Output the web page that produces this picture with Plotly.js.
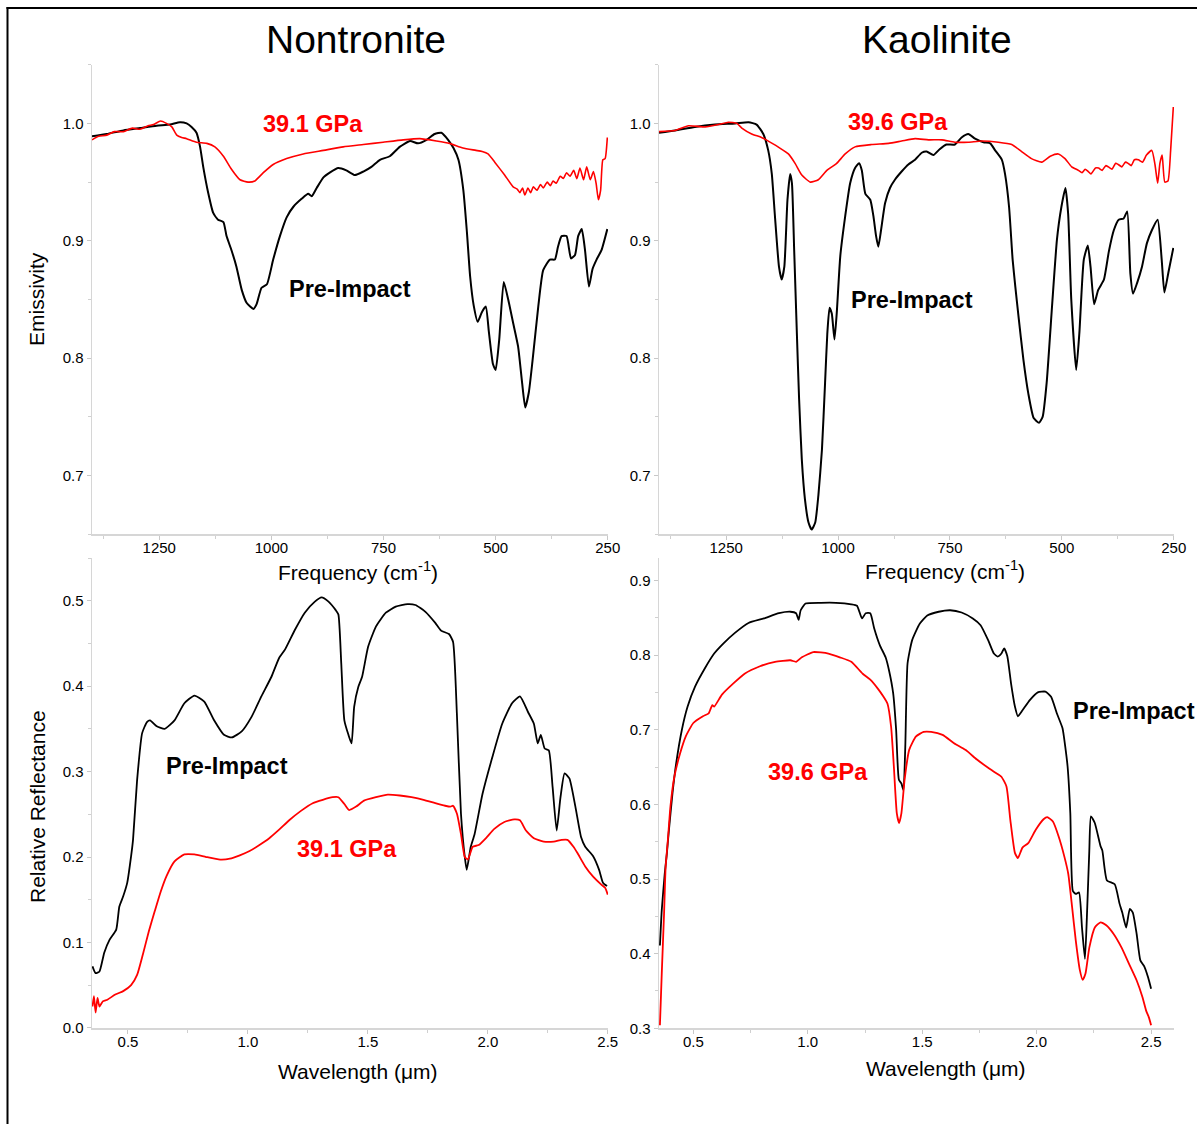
<!DOCTYPE html>
<html>
<head>
<meta charset="utf-8">
<script src="https://cdn.plot.ly/plotly-3.0.1.min.js"></script>
<style>html,body{margin:0;padding:0;background:#fff;}#chart{width:1197px;height:1124px;}</style>
</head>
<body>
<div id="chart"></div>
<script>
// ---------- Nontronite emissivity (cm-1) ----------
const nontEmisFreqPre = [1400,1367,1330,1293,1256,1226,1204,1189,1178,1167,
  1159,1152,1141,1130,1119,1107,1100,1089,1078,1066,
  1055,1040,1033,1022,1010,996,981,966,951,932,
  918,910,899,884,870,851,833,814,795,777,
  758,736,714,691,673,654,636,621,606,594,
  583,572,564,557,549,540,531,522,515,506,
  500,492,482,472,461,450,441,434,426,418,
  405,394,379,368,361,353,342,332,323,316,
  308,301,292,284,275,264,251];
const nontEmisPre = [0.989,0.991,0.994,0.996,0.998,0.999,1.001,1.000,0.997,0.992,
  0.980,0.963,0.941,0.924,0.918,0.916,0.904,0.892,0.878,0.858,
  0.847,0.842,0.846,0.860,0.863,0.884,0.904,0.920,0.929,0.936,
  0.940,0.938,0.945,0.954,0.958,0.962,0.960,0.956,0.959,0.963,
  0.969,0.972,0.980,0.985,0.983,0.986,0.991,0.992,0.986,0.979,
  0.969,0.943,0.907,0.870,0.845,0.831,0.839,0.844,0.822,0.795,
  0.790,0.816,0.865,0.850,0.830,0.810,0.779,0.758,0.771,0.797,
  0.844,0.875,0.884,0.884,0.895,0.904,0.904,0.885,0.888,0.904,
  0.910,0.893,0.861,0.876,0.884,0.892,0.910];
const nontEmisFreqShock = [1400,1385,1367,1350,1330,1310,1293,1275,1263,1247,
  1234,1222,1211,1200,1189,1167,1144,1126,1107,1089,
  1070,1052,1037,1018,996,966,929,884,840,795,
  751,706,669,632,603,573,544,530,517,502,
  480,461,452,446,440,435,428,422,416,408,
  400,394,385,378,372,365,356,349,342,334,
  326,319,312,304,297,289,282,276,271,266,
  261,256,251];
const nontEmisShock = [0.986,0.989,0.990,0.993,0.993,0.996,0.995,0.998,0.999,1.002,
  1.000,0.997,0.990,0.988,0.987,0.984,0.983,0.980,0.972,0.961,
  0.952,0.950,0.951,0.958,0.965,0.970,0.974,0.977,0.980,0.982,
  0.984,0.986,0.987,0.985,0.983,0.979,0.977,0.976,0.974,0.967,
  0.956,0.946,0.944,0.941,0.945,0.939,0.945,0.941,0.946,0.943,
  0.948,0.945,0.950,0.947,0.951,0.949,0.955,0.953,0.958,0.955,
  0.960,0.953,0.962,0.952,0.963,0.952,0.959,0.949,0.935,0.943,
  0.969,0.970,0.988];

// ---------- Kaolinite emissivity (cm-1) ----------
const kaolEmisFreqPre = [1400,1364,1320,1275,1230,1200,1182,1167,1156,1148,
  1141,1132,1126,1120,1113,1107,1103,1098,1092,1087,
  1081,1074,1066,1059,1051,1044,1036,1029,1024,1019,
  1014,1008,1003,995,984,973,962,953,947,939,
  928,921,915,910,904,895,884,873,858,843,
  828,813,802,787,773,758,739,724,709,694,
  675,660,649,634,627,618,610,604,597,586,
  575,563,551,543,534,522,511,501,492,486,
  479,468,461,451,442,436,428,419,406,395,
  384,373,362,354,347,341,332,321,310,299,
  286,277,271,262,251];
const kaolEmisPre = [0.992,0.994,0.997,0.999,1.000,1.001,0.999,0.991,0.977,0.957,
  0.921,0.878,0.867,0.878,0.935,0.957,0.949,0.892,0.821,0.765,
  0.714,0.680,0.660,0.654,0.660,0.683,0.722,0.779,0.821,0.843,
  0.838,0.816,0.838,0.887,0.921,0.949,0.962,0.966,0.960,0.940,
  0.935,0.921,0.904,0.895,0.909,0.932,0.945,0.952,0.959,0.965,
  0.969,0.975,0.976,0.973,0.978,0.982,0.982,0.988,0.991,0.987,
  0.984,0.983,0.977,0.969,0.957,0.929,0.884,0.861,0.836,0.799,
  0.770,0.749,0.745,0.750,0.779,0.844,0.901,0.929,0.945,0.923,
  0.850,0.790,0.821,0.884,0.896,0.878,0.846,0.858,0.867,0.891,
  0.909,0.918,0.919,0.925,0.872,0.855,0.864,0.878,0.898,0.909,
  0.918,0.884,0.856,0.873,0.894];
const kaolEmisFreqShock = [1400,1364,1334,1297,1267,1245,1226,1215,1193,1171,
  1152,1130,1111,1096,1081,1062,1044,1025,1003,984,
  962,925,887,858,828,798,768,739,709,679,
  642,612,590,568,545,526,508,493,478,463,
  455,448,441,435,425,418,410,402,396,388,
  380,374,366,358,352,345,338,329,320,311,
  299,292,286,281,276,270,263,257,251];
const kaolEmisShock = [0.993,0.994,0.998,0.997,0.999,1.001,1.000,0.996,0.991,0.988,
  0.984,0.979,0.974,0.966,0.956,0.950,0.952,0.960,0.966,0.974,
  0.980,0.982,0.983,0.985,0.987,0.986,0.986,0.984,0.984,0.985,
  0.984,0.982,0.976,0.970,0.967,0.972,0.974,0.970,0.963,0.960,
  0.958,0.961,0.959,0.957,0.962,0.962,0.960,0.964,0.963,0.961,
  0.966,0.965,0.963,0.967,0.966,0.964,0.969,0.969,0.967,0.973,
  0.977,0.965,0.949,0.966,0.973,0.950,0.951,0.977,1.014];

// ---------- Nontronite reflectance (um) ----------
const nontReflWlPre = [0.352,0.365,0.381,0.401,0.423,0.451,0.464,0.480,0.497,0.513,
  0.521,0.538,0.559,0.579,0.592,0.620,0.653,0.694,0.735,0.777,
  0.818,0.859,0.900,0.933,0.974,1.015,1.056,1.098,1.130,1.155,
  1.196,1.237,1.279,1.307,1.336,1.366,1.377,1.389,1.402,1.419,
  1.432,1.443,1.460,1.476,1.501,1.534,1.575,1.616,1.665,1.698,
  1.740,1.781,1.805,1.838,1.855,1.871,1.888,1.904,1.912,1.929,
  1.945,1.978,2.019,2.060,2.101,2.134,2.167,2.192,2.208,2.221,
  2.237,2.254,2.270,2.287,2.303,2.320,2.340,2.365,2.389,2.406,
  2.439,2.464,2.480,2.497];
const nontReflPre = [0.072,0.064,0.066,0.088,0.103,0.115,0.142,0.154,0.170,0.201,
  0.220,0.290,0.345,0.358,0.360,0.353,0.350,0.360,0.380,0.389,
  0.382,0.360,0.343,0.340,0.347,0.364,0.388,0.411,0.433,0.443,
  0.466,0.486,0.499,0.504,0.499,0.489,0.484,0.427,0.360,0.343,
  0.333,0.376,0.399,0.411,0.446,0.470,0.486,0.493,0.496,0.495,
  0.487,0.474,0.465,0.461,0.452,0.368,0.251,0.200,0.185,0.212,
  0.227,0.274,0.317,0.356,0.380,0.388,0.370,0.356,0.333,0.343,
  0.327,0.325,0.282,0.231,0.270,0.298,0.292,0.259,0.223,0.212,
  0.201,0.185,0.170,0.166];
const nontReflWlShock = [0.352,0.358,0.365,0.373,0.381,0.395,0.414,0.447,0.480,0.513,
  0.538,0.562,0.587,0.612,0.637,0.661,0.694,0.735,0.777,0.826,
  0.884,0.925,0.966,1.007,1.048,1.089,1.130,1.172,1.221,1.270,
  1.312,1.353,1.377,1.402,1.422,1.451,1.484,1.534,1.583,1.633,
  1.682,1.732,1.781,1.822,1.844,1.855,1.871,1.888,1.904,1.917,
  1.937,1.962,1.995,2.027,2.069,2.110,2.134,2.159,2.192,2.233,
  2.275,2.308,2.332,2.357,2.373,2.406,2.439,2.472,2.489,2.500];
const nontReflShock = [0.025,0.037,0.018,0.035,0.025,0.031,0.033,0.039,0.043,0.050,
  0.062,0.086,0.113,0.137,0.160,0.178,0.195,0.203,0.203,0.200,
  0.197,0.198,0.202,0.207,0.214,0.222,0.232,0.243,0.254,0.263,
  0.267,0.270,0.270,0.262,0.255,0.259,0.266,0.270,0.273,0.272,
  0.270,0.267,0.263,0.260,0.259,0.260,0.251,0.227,0.200,0.197,
  0.212,0.214,0.223,0.233,0.241,0.244,0.243,0.231,0.222,0.218,
  0.218,0.220,0.220,0.212,0.205,0.189,0.177,0.168,0.164,0.156];

// ---------- Kaolinite reflectance (um) ----------
const kaolReflWlPre = [0.354,0.362,0.375,0.384,0.392,0.409,0.425,0.450,0.475,0.508,
  0.550,0.591,0.633,0.683,0.741,0.808,0.874,0.924,0.949,0.960,
  0.969,0.990,1.057,1.123,1.190,1.215,1.237,1.253,1.273,1.290,
  1.315,1.340,1.356,1.373,1.386,1.398,1.409,1.418,1.426,1.436,
  1.456,1.489,1.522,1.572,1.622,1.672,1.721,1.755,1.788,1.813,
  1.830,1.846,1.858,1.872,1.888,1.905,1.918,1.938,1.971,2.005,
  2.038,2.063,2.088,2.113,2.125,2.135,2.147,2.158,2.171,2.185,
  2.198,2.211,2.221,2.230,2.237,2.254,2.279,2.287,2.307,2.341,
  2.362,2.374,2.391,2.407,2.420,2.437,2.453,2.470,2.487,2.500];
const kaolReflPre = [0.411,0.458,0.507,0.533,0.561,0.615,0.655,0.700,0.731,0.758,
  0.782,0.802,0.816,0.830,0.843,0.849,0.856,0.858,0.856,0.847,
  0.860,0.869,0.870,0.870,0.868,0.866,0.849,0.856,0.856,0.836,
  0.813,0.797,0.778,0.749,0.700,0.633,0.628,0.619,0.677,0.789,
  0.820,0.842,0.853,0.858,0.860,0.857,0.849,0.840,0.820,0.802,
  0.798,0.802,0.809,0.798,0.762,0.731,0.718,0.726,0.740,0.750,
  0.751,0.744,0.722,0.702,0.677,0.651,0.588,0.484,0.480,0.482,
  0.435,0.393,0.462,0.538,0.584,0.575,0.544,0.538,0.498,0.493,
  0.467,0.455,0.435,0.460,0.455,0.426,0.391,0.383,0.368,0.353];
const kaolReflWlShock = [0.354,0.362,0.372,0.379,0.389,0.400,0.417,0.442,0.467,0.500,
  0.542,0.567,0.583,0.591,0.625,0.675,0.724,0.791,0.857,0.924,
  0.949,0.974,1.024,1.090,1.140,1.190,1.240,1.273,1.306,1.331,
  1.348,1.364,1.376,1.389,1.399,1.409,1.423,1.443,1.473,1.506,
  1.539,1.589,1.639,1.689,1.739,1.788,1.822,1.846,1.868,1.885,
  1.905,1.918,1.938,1.963,1.996,2.030,2.046,2.071,2.096,2.121,
  2.138,2.155,2.171,2.188,2.201,2.213,2.230,2.254,2.279,2.304,
  2.337,2.371,2.404,2.437,2.462,2.479,2.491,2.500];
const kaolReflShock = [0.304,0.373,0.453,0.516,0.553,0.597,0.637,0.668,0.691,0.709,
  0.718,0.722,0.733,0.731,0.747,0.762,0.775,0.785,0.791,0.793,
  0.791,0.797,0.804,0.802,0.797,0.791,0.775,0.767,0.755,0.744,
  0.735,0.704,0.651,0.588,0.575,0.588,0.633,0.673,0.691,0.697,
  0.697,0.693,0.682,0.673,0.660,0.649,0.642,0.637,0.624,0.579,
  0.535,0.528,0.542,0.548,0.566,0.580,0.583,0.577,0.557,0.530,
  0.507,0.462,0.417,0.379,0.365,0.373,0.408,0.435,0.442,0.438,
  0.426,0.408,0.386,0.364,0.342,0.323,0.314,0.304];

const titleLeft = 'Nontronite';
const titleRight = 'Kaolinite';
const labelPre = 'Pre-Impact';
const labelShockN = '39.1 GPa';
const labelShockK = '39.6 GPa';

// ---------- layout ----------
const W = 1197, H = 1124;
const px = v => v / W;
const py = v => 1 - v / H;
const FONT = 'Arial, "Liberation Sans", sans-serif';
const BLACK = '#000000', RED = '#ff0000';

function line(x, y, color, w, xa, ya) {
  return {x: x, y: y, type: 'scatter', mode: 'lines', xaxis: xa, yaxis: ya,
    line: {color: color, width: w, shape: 'spline', smoothing: 0.5},
    hoverinfo: 'skip', showlegend: false};
}
const traces = [
  line(nontEmisFreqPre, nontEmisPre, BLACK, 2, 'x', 'y'),
  line(nontEmisFreqShock, nontEmisShock, RED, 1.6, 'x', 'y'),
  line(kaolEmisFreqPre, kaolEmisPre, BLACK, 2, 'x2', 'y2'),
  line(kaolEmisFreqShock, kaolEmisShock, RED, 1.6, 'x2', 'y2'),
  line(nontReflWlPre, nontReflPre, BLACK, 1.8, 'x3', 'y3'),
  line(nontReflWlShock, nontReflShock, RED, 1.8, 'x3', 'y3'),
  line(kaolReflWlPre, kaolReflPre, BLACK, 1.8, 'x4', 'y4'),
  line(kaolReflWlShock, kaolReflShock, RED, 1.8, 'x4', 'y4')
];

function axis(domain, range, dtick, minorDtick, fmt, anchor, tick0, standoff) {
  return {
    domain: domain, range: range, anchor: anchor, autorange: false,
    showline: true, linecolor: '#d6d6d6', linewidth: 1.5,
    showgrid: false, zeroline: false,
    ticks: 'outside', ticklen: 4, tickwidth: 1, tickcolor: '#c8c8c8',
    tick0: tick0, dtick: dtick, tickformat: fmt, ticklabelstandoff: standoff,
    tickfont: {family: FONT, size: 15, color: '#000'},
    minor: {ticks: 'outside', ticklen: 3, tickwidth: 1, tickcolor: '#d0d0d0', dtick: minorDtick, showgrid: false},
    fixedrange: true
  };
}
const xL = [px(92), px(608)], xR = [px(659), px(1174)];
const yTop = [py(534.3), py(64.7)], yBot = [py(1028.3), py(558)];

function ann(text, x, y, size, color, bold, extra) {
  return Object.assign({text: bold ? '<b>' + text + '</b>' : text, xref: 'paper', yref: 'paper',
    x: px(x), y: py(y), xanchor: 'center', yanchor: 'middle', showarrow: false,
    font: {family: FONT, size: size, color: color}}, extra || {});
}

const layout = {
  width: W, height: H, margin: {l: 0, r: 0, t: 0, b: 0},
  paper_bgcolor: '#ffffff', plot_bgcolor: '#ffffff', showlegend: false,
  xaxis: axis(xL, [1400, 249.5], 250, 125, 'd', 'y', 250, -5),
  yaxis: axis(yTop, [0.65, 1.05], 0.1, 0.05, '.1f', 'x', 0, 0),
  xaxis2: axis(xR, [1400, 249.5], 250, 125, 'd', 'y2', 250, -5),
  yaxis2: axis(yTop, [0.65, 1.05], 0.1, 0.05, '.1f', 'x2', 0, 0),
  xaxis3: axis(xL, [0.35, 2.501], 0.5, 0.25, '.1f', 'y3', 0, -5),
  yaxis3: axis(yBot, [-0.0005, 0.55], 0.1, 0.05, '.1f', 'x3', 0, 0),
  xaxis4: axis(xR, [0.35, 2.6], 0.5, 0.25, '.1f', 'y4', 0, -5),
  yaxis4: axis(yBot, [0.3, 0.93], 0.1, 0.05, '.1f', 'x4', 0, 0),
  annotations: [
    ann(titleLeft, 356, 40, 39, '#000', false),
    ann(titleRight, 937, 40, 39, '#000', false),
    ann('Emissivity', 36, 299, 21, '#000', false, {textangle: -90}),
    ann('Relative Reflectance', 37, 807, 21, '#000', false, {textangle: -90}),
    ann('Frequency (cm<sup>-1</sup>)', 358, 571, 21, '#000', false),
    ann('Frequency (cm<sup>-1</sup>)', 945, 570, 21, '#000', false),
    ann('Wavelength (\u03bcm)', 358, 1071, 21, '#000', false),
    ann('Wavelength (\u03bcm)', 946, 1068, 21, '#000', false),
    ann(labelShockN, 313, 124, 23.5, RED, true),
    ann(labelPre, 350, 289, 23.5, BLACK, true),
    ann(labelShockK, 898, 122, 23.5, RED, true),
    ann(labelPre, 912, 300, 23.5, BLACK, true),
    ann(labelPre, 227, 766, 23.5, BLACK, true),
    ann(labelShockN, 347, 849, 23.5, RED, true),
    ann(labelPre, 1134, 711, 23.5, BLACK, true),
    ann(labelShockK, 818, 772, 23.5, RED, true)
  ],
  shapes: [
    {type: 'line', xref: 'paper', yref: 'paper', x0: px(7.5), x1: px(7.5), y0: py(7), y1: -0.01, line: {color: '#000', width: 2}},
    {type: 'line', xref: 'paper', yref: 'paper', x0: px(6.5), x1: 1.01, y0: py(8), y1: py(8), line: {color: '#000', width: 2}}
  ]
};

Plotly.newPlot('chart', traces, layout, {displayModeBar: false, staticPlot: true});
</script>
</body>
</html>
